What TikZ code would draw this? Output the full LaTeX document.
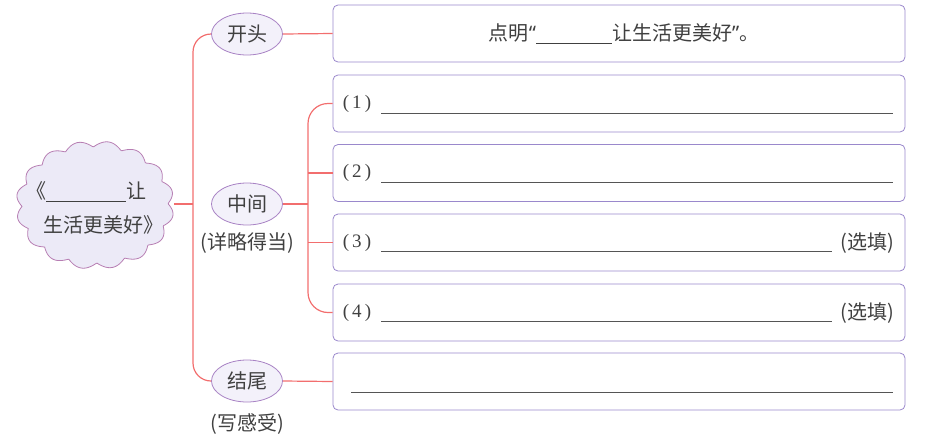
\documentclass[tikz,border=0pt]{standalone}
\usepackage{fontspec}
\setmainfont{Noto Sans CJK SC}
\newfontfamily\numfont{Liberation Serif}
\newfontfamily\latinfont{Noto Sans}
\usetikzlibrary{shapes.geometric}
\definecolor{linkred}{HTML}{F26E6E}
\definecolor{boxline}{HTML}{9A88CC}
\definecolor{ellline}{HTML}{A882C4}
\definecolor{ellfill}{HTML}{F3F1FA}
\definecolor{blobfill}{HTML}{ECEAF7}
\definecolor{txt}{HTML}{404040}
\definecolor{uline}{HTML}{555555}
\tikzset{
  link/.style={draw=linkred, line width=1.2pt},
  secbox/.style={draw=ellline, fill=ellfill, ellipse, minimum width=71pt, minimum height=42pt, inner sep=0pt, line width=0.8pt, text=txt, font=\fontsize{20}{24}\selectfont},
  answerbox/.style={draw=boxline, rounded corners=5pt, minimum width=572pt, minimum height=57pt, inner sep=0pt, line width=0.8pt, fill=white},
  note/.style={text=txt, font=\fontsize{20}{24}\selectfont, inner sep=0pt},
  numlab/.style={text=txt, font=\numfont\fontsize{19}{22}\selectfont, inner sep=0pt},
  blank/.style={draw=uline, line width=0.8pt}
}
\begin{document}
\begin{tikzpicture}[x=1pt, y=-1pt]
\useasboundingbox (0,0) rectangle (932,440);
% scalloped blob
\draw[fill=blobfill, draw=ellline!80!linkred, line width=0.8pt]
  plot[domain=0:360, samples=400, smooth] ({95+(73+6*abs(sin(8*\x+11)))*cos(\x)}, {205+(58+6*abs(sin(8*\x+11)))*sin(\x)}) -- cycle;
\node[coordinate] (blob) at (174,204) {};
\node[note, anchor=west] (bl1) at (26,192) {《\rule[-3pt]{80pt}{0.8pt}让};
\node[note, anchor=west] (bl2) at (43,225) {生活更美好》};

% section ellipses
\node[secbox] (kt) at (247,34) {开头};
\node[secbox] (zj) at (247,204) {中间};
\node[secbox] (jw) at (247,381) {结尾};
\node[note] (zjn) at (247,243) {(详略得当)};
\node[note] (jwn) at (247,424) {(写感受)};

% answer boxes
\node[answerbox] (b0) at (619,33.5) {};
\node[answerbox] (b1) at (619,103.5) {};
\node[answerbox] (b2) at (619,173) {};
\node[answerbox] (b3) at (619,242.5) {};
\node[answerbox] (b4) at (619,312.5) {};
\node[answerbox] (b5) at (619,381.5) {};

% trunk connectors
\coordinate (t1) at (193,204);
\coordinate (t2) at (308,204);
\draw[link] (blob) -- (t1);
\draw[link, rounded corners=18pt] (kt.west) -| (t1) |- (jw.west);
\draw[link] (kt.east) -- (b0.west);
\draw[link] (jw.east) -- (b5.west);
\draw[link] (zj.east) -- (t2);
\draw[link, rounded corners=20pt] (b1.west) -| (t2) |- (b4.west);
\draw[link] (b2.west) -- (b2.west -| t2);
\draw[link] (b3.west) -- (b3.west -| t2);

% box texts
\node[note] (t0) at (624,34) {点明{\latinfont“}\rule[-3pt]{76pt}{0.8pt}让生活更美好{\latinfont”}。};
\node[numlab] (n1) at (357,104) {(\,1\,)};
\node[numlab] (n2) at (357,173) {(\,2\,)};
\node[numlab] (n3) at (357,243) {(\,3\,)};
\node[numlab] (n4) at (357,313) {(\,4\,)};
\draw[blank] (381,113) -- (893,113);
\draw[blank] (381,182) -- (893,182);
\draw[blank] (381,251) -- (832,251);
\draw[blank] (381,321) -- (832,321);
\draw[blank] (351,392) -- (893,392);
\node[note, anchor=east] (x3) at (894,243) {(选填)};
\node[note, anchor=east] (x4) at (894,313) {(选填)};
\end{tikzpicture}
\end{document}
